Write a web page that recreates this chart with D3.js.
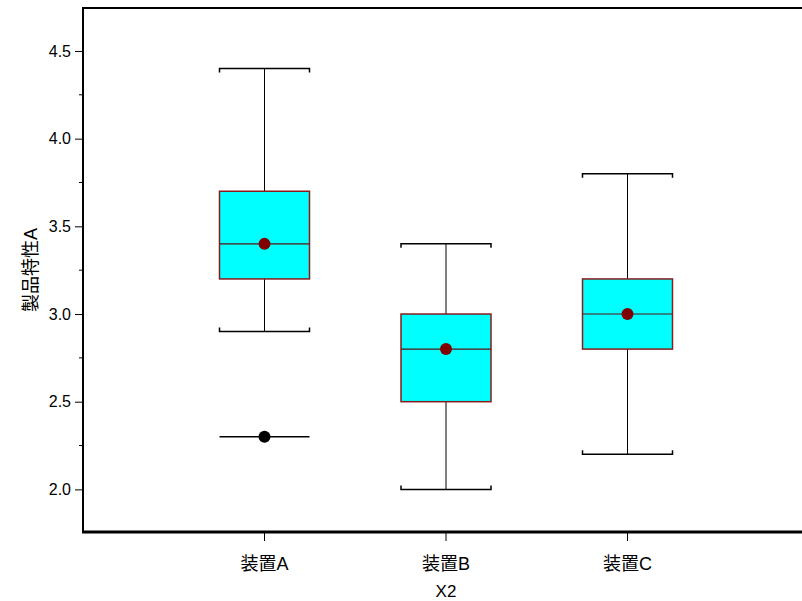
<!DOCTYPE html>
<html>
<head>
<meta charset="utf-8">
<script src="https://cdn.jsdelivr.net/npm/d3@7"></script>
<style>
  html, body { margin: 0; padding: 0; background: #fff; }
  svg { display: block; }
  text { font-family: "Liberation Sans", Arial, "Noto Sans CJK JP", sans-serif; }
</style>
</head>
<body>
<svg id="chart" width="802" height="601"></svg>
<script>
// Box-plot summary per device
const categories = ["装置A", "装置B", "装置C"];
const whiskerLow  = [2.9, 2.0, 2.2];
const q1          = [3.2, 2.5, 2.8];
const median      = [3.4, 2.8, 3.0];
const q3          = [3.7, 3.0, 3.2];
const whiskerHigh = [4.4, 3.4, 3.8];
const means       = [3.4, 2.8, 3.0];
// Outliers: [category index, value]
const outliers = [[0, 2.3]];
const yTicks = [2.0, 2.5, 3.0, 3.5, 4.0, 4.5];
const yMinorTicks = [2.25, 2.75, 3.25, 3.75, 4.25];

const svg = d3.select("#chart");
const plotLeft = 83, plotTop = 8, plotBottom = 532, plotRight = 809;

const x = d3.scaleLinear().domain([0, categories.length + 1]).range([plotLeft, plotRight]);
const y = d3.scaleLinear().domain([1.757, 4.745]).range([plotBottom, plotTop]);

const boxHalf = 45;
const capTick = 4;

// Y axis
const yAxis = svg.append("g").attr("transform", `translate(${plotLeft},0)`)
  .call(d3.axisLeft(y).tickValues(yTicks).tickFormat(d3.format(".1f")).tickSize(8).tickPadding(4));
yAxis.select(".domain").remove();
yAxis.selectAll("text").attr("font-size", 16).attr("fill", "#000");
yAxis.selectAll("line").attr("stroke", "#000");

svg.append("g").attr("transform", `translate(${plotLeft},0)`)
  .selectAll("line").data(yMinorTicks).join("line")
  .attr("x1", -4).attr("x2", 0)
  .attr("y1", d => y(d)).attr("y2", d => y(d))
  .attr("stroke", "#000");

// X axis ticks and labels
const xg = svg.append("g");
categories.forEach((c, i) => {
  const cx = x(i + 1);
  xg.append("line").attr("x1", cx).attr("x2", cx).attr("y1", plotBottom).attr("y2", plotBottom + 9).attr("stroke", "#000");
  xg.append("text").attr("x", cx).attr("y", 570).attr("text-anchor", "middle")
    .attr("font-size", 18).attr("fill", "#000").text(c);
});

// Axis titles
svg.append("text").attr("x", x(2)).attr("y", 597).attr("text-anchor", "middle")
  .attr("font-size", 17).attr("fill", "#000").text("X2");
svg.append("text").attr("transform", `translate(37,270) rotate(-90)`)
  .attr("text-anchor", "middle").attr("font-size", 18).attr("fill", "#000").text("製品特性A");

// Boxes
const g = svg.append("g");
categories.forEach((c, i) => {
  const cx = x(i + 1);
  // whisker stems
  g.append("line").attr("x1", cx).attr("x2", cx).attr("y1", y(q3[i])).attr("y2", y(whiskerHigh[i])).attr("stroke", "#000");
  g.append("line").attr("x1", cx).attr("x2", cx).attr("y1", y(q1[i])).attr("y2", y(whiskerLow[i])).attr("stroke", "#000");
  // caps with end ticks pointing toward the box
  const yh = y(whiskerHigh[i]), yl = y(whiskerLow[i]);
  g.append("path").attr("d", `M${cx - boxHalf},${yh + capTick}V${yh}H${cx + boxHalf}V${yh + capTick}`)
    .attr("fill", "none").attr("stroke", "#000").attr("stroke-width", 1.5);
  g.append("path").attr("d", `M${cx - boxHalf},${yl - capTick}V${yl}H${cx + boxHalf}V${yl - capTick}`)
    .attr("fill", "none").attr("stroke", "#000").attr("stroke-width", 1.5);
  // box
  g.append("rect").attr("x", cx - boxHalf).attr("y", y(q3[i]))
    .attr("width", boxHalf * 2).attr("height", y(q1[i]) - y(q3[i]))
    .attr("fill", "#00ffff").attr("stroke", "#8b1a1a").attr("stroke-width", 1.5);
  // median
  g.append("line").attr("x1", cx - boxHalf).attr("x2", cx + boxHalf)
    .attr("y1", y(median[i])).attr("y2", y(median[i])).attr("stroke", "#5a1010").attr("stroke-width", 1.2);
  // mean
  g.append("circle").attr("cx", cx).attr("cy", y(means[i])).attr("r", 6).attr("fill", "#800000");
});

// Outliers
outliers.forEach(([i, v]) => {
  const cx = x(i + 1);
  g.append("line").attr("x1", cx - boxHalf).attr("x2", cx + boxHalf)
    .attr("y1", y(v)).attr("y2", y(v)).attr("stroke", "#000").attr("stroke-width", 1.5);
  g.append("circle").attr("cx", cx).attr("cy", y(v)).attr("r", 6).attr("fill", "#000");
});

// Frame
svg.append("line").attr("x1", plotLeft).attr("x2", plotRight).attr("y1", plotTop).attr("y2", plotTop).attr("stroke", "#000").attr("stroke-width", 2);
svg.append("line").attr("x1", plotLeft).attr("x2", plotLeft).attr("y1", plotTop - 1).attr("y2", plotBottom + 1).attr("stroke", "#000").attr("stroke-width", 2);
svg.append("line").attr("x1", plotLeft - 1).attr("x2", plotRight).attr("y1", plotBottom).attr("y2", plotBottom).attr("stroke", "#000").attr("stroke-width", 3);
</script>
</body>
</html>
